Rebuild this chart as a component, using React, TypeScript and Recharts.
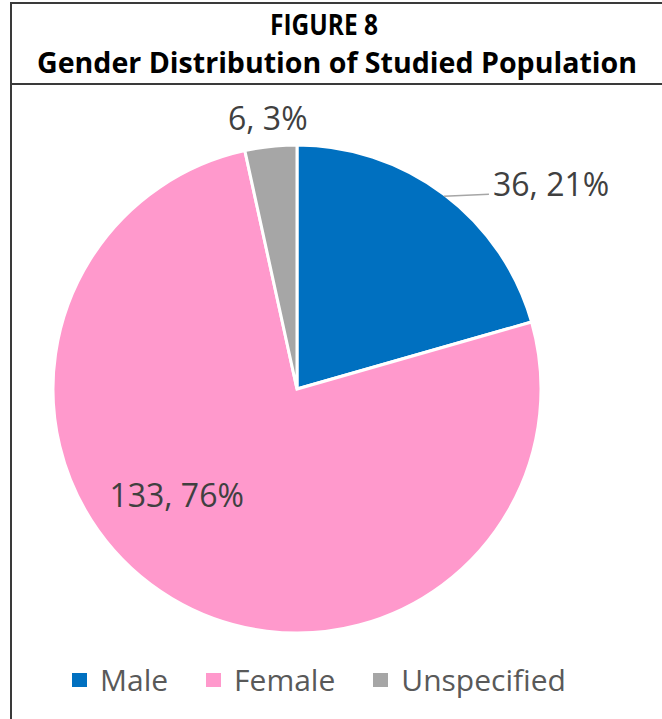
import React from "react";
import { PieChart, Pie, Cell, Legend } from "recharts";

const categories = ["Male", "Female", "Unspecified"];
const counts = [36, 133, 6];
const colors = ["#0070C0", "#FF99CC", "#A6A6A6"];
const titleLine1 = "FIGURE 8";
const titleLine2 = "Gender Distribution of Studied Population";

const data = categories.map((name, i) => ({ name, value: counts[i] }));
const RAD = Math.PI / 180;
const FONT = "'Open Sans', 'DejaVu Sans', sans-serif";

const renderLabel = (props: any) => {
  const { cx, cy, midAngle, outerRadius, index, value, percent } = props;
  const text = `${value}, ${Math.round(percent * 100)}%`;
  const common = { fill: "#404040", fontSize: 32, fontFamily: FONT };
  if (index === 0) {
    const ex = cx + outerRadius * Math.cos(-midAngle * RAD);
    const ey = cy + outerRadius * Math.sin(-midAngle * RAD);
    return (
      <g>
        <line x1={ex} y1={ey + 2} x2={ex + 45} y2={ey} stroke="#A6A6A6" strokeWidth={1.5} />
        <text x={ex + 49} y={ey + 2} textAnchor="start" {...common}>{text}</text>
      </g>
    );
  }
  if (index === 2) {
    const r = outerRadius + 28;
    const x = cx + r * Math.cos(-midAngle * RAD);
    const y = cy + r * Math.sin(-midAngle * RAD);
    return (
      <text x={x} y={y + 11} textAnchor="middle" {...common}>{text}</text>
    );
  }
  const a = midAngle - 17.5;
  const r = outerRadius * 0.66;
  const x = cx + r * Math.cos(-a * RAD);
  const y = cy + r * Math.sin(-a * RAD);
  return (
    <text x={x} y={y + 11} textAnchor="middle" {...common}>{text}</text>
  );
};

const LegendContent = () => {
  return (
    <div style={{ display: "flex", alignItems: "center", fontFamily: FONT }}>
      {categories.map((name, i) => (
        <div key={name} style={{ display: "flex", alignItems: "center", marginRight: 38 }}>
          <div style={{ width: 15, height: 14, background: colors[i], marginRight: 13 }} />
          <span style={{ fontSize: 30, color: "#595959", lineHeight: "40px" }}>{name}</span>
        </div>
      ))}
    </div>
  );
};

export default function App() {
  return (
    <div style={{ position: "absolute", left: 0, top: 0, width: 662, height: 719, background: "#fff", overflow: "hidden" }}>
      <svg width={662} height={719} style={{ position: "absolute", left: 0, top: 0 }}>
        <line x1={11} y1={3} x2={662} y2={3} stroke="#3a3a3a" strokeWidth={2} />
        <line x1={11} y1={84} x2={662} y2={84} stroke="#3a3a3a" strokeWidth={2} />
        <line x1={11} y1={2} x2={11} y2={719} stroke="#3a3a3a" strokeWidth={2} />
        <text x={270} y={35} fontSize={28} fontWeight="bold" fontFamily={FONT} fill="#000" textLength={108} lengthAdjust="spacingAndGlyphs">{titleLine1}</text>
        <text x={37} y={73} fontSize={28} fontWeight="bold" fontFamily={FONT} fill="#000" textLength={600} lengthAdjust="spacingAndGlyphs">{titleLine2}</text>
      </svg>
      <div style={{ position: "absolute", left: 0, top: 0 }}>
        <PieChart width={662} height={719} margin={{ top: 0, right: 0, bottom: 0, left: 0 }}>
          <Pie
            data={data}
            dataKey="value"
            nameKey="name"
            cx={297}
            cy={389}
            outerRadius={244}
            startAngle={90}
            endAngle={-270}
            stroke="#ffffff"
            strokeWidth={3}
            label={renderLabel}
            labelLine={false}
            isAnimationActive={false}
          >
            {data.map((d, i) => (
              <Cell key={d.name} fill={colors[i]} />
            ))}
          </Pie>
          <Legend
            content={<LegendContent />}
            wrapperStyle={{ position: "absolute", left: 72, top: 660, width: 590 }}
          />
        </PieChart>
      </div>
    </div>
  );
}
